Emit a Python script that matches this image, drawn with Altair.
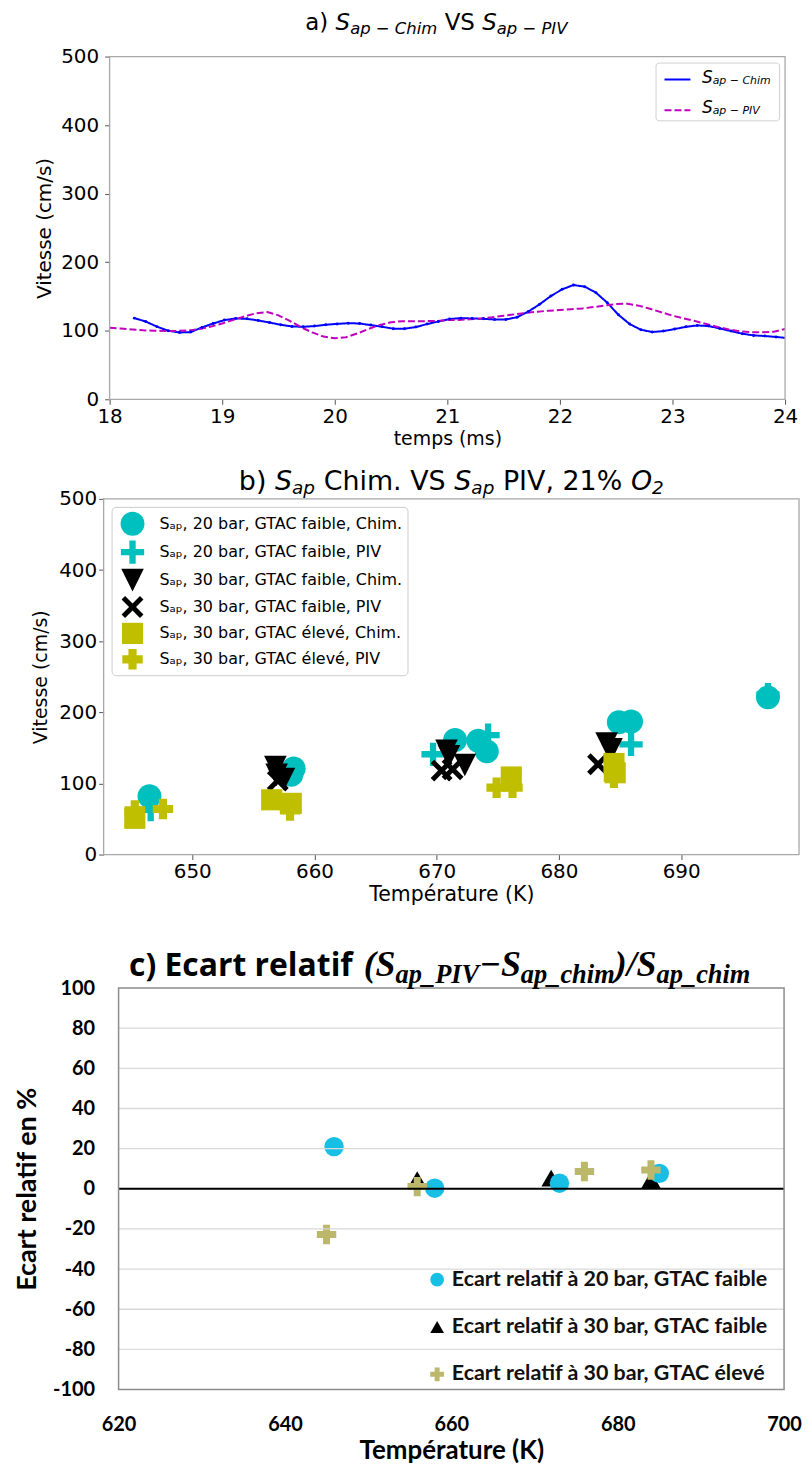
import altair as alt
import pandas as pd

# ---------------- panel a data ----------------
a_t_chim = [18.22, 18.32, 18.42, 18.52, 18.62, 18.72, 18.82, 18.92, 19.02, 19.12,
            19.22, 19.32, 19.42, 19.52, 19.62, 19.72, 19.82, 19.92, 20.02, 20.12,
            20.22, 20.32, 20.42, 20.52, 20.62, 20.72, 20.82, 20.92, 21.02, 21.12,
            21.22, 21.32, 21.42, 21.52, 21.62, 21.72, 21.82, 21.92, 22.02, 22.12,
            22.22, 22.32, 22.42, 22.52, 22.62, 22.72, 22.82, 22.92, 23.02, 23.12,
            23.22, 23.32, 23.42, 23.52, 23.62, 23.72, 23.82, 23.92, 24.02]
a_v_chim = [118.4, 113.5, 106.0, 100.0, 97.5, 98.0, 104.8, 110.6, 115.5, 117.9,
            117.4, 115.0, 112.0, 108.7, 106.2, 105.8, 106.8, 108.7, 110.0, 111.0,
            110.6, 108.2, 105.8, 103.0, 103.0, 105.4, 109.7, 113.5, 117.0, 118.4,
            117.9, 117.4, 116.4, 116.4, 119.8, 128.0, 138.6, 150.7, 160.4, 166.7,
            164.3, 155.6, 141.0, 123.2, 109.7, 101.4, 98.1, 99.5, 102.4, 105.8,
            107.7, 106.8, 103.4, 99.5, 95.7, 93.2, 92.3, 90.9, 89.4]
a_t_piv = [18.0, 18.1, 18.2, 18.3, 18.4, 18.5, 18.6, 18.7, 18.8, 18.9,
           19.0, 19.1, 19.2, 19.3, 19.4, 19.5, 19.6, 19.7, 19.8, 19.9,
           20.0, 20.1, 20.2, 20.3, 20.4, 20.5, 20.6, 20.7, 20.8, 20.9,
           21.0, 21.1, 21.2, 21.3, 21.4, 21.5, 21.6, 21.7, 21.8, 21.9,
           22.0, 22.1, 22.2, 22.3, 22.4, 22.5, 22.6, 22.7, 22.8, 22.9,
           23.0, 23.1, 23.2, 23.3, 23.4, 23.5, 23.6, 23.7, 23.8, 23.9, 24.0]
a_v_piv = [104.2, 103.1, 101.8, 100.6, 100.0, 99.6, 99.7, 100.4, 102.5, 106.0,
           110.5, 115.8, 121.0, 125.5, 127.3, 122.5, 114.5, 105.2, 97.5, 91.5,
           88.9, 90.5, 96.0, 102.6, 108.5, 112.3, 114.0, 114.0, 114.0, 114.2,
           115.5, 115.8, 116.6, 118.0, 119.8, 122.0, 124.0, 126.0, 127.8, 129.2,
           130.2, 131.4, 132.6, 134.6, 136.8, 139.0, 139.4, 136.6, 132.0, 127.0,
           122.0, 118.0, 114.2, 109.9, 105.5, 102.0, 99.0, 97.8, 97.8, 98.6, 102.4]
a_series = ["chim", "piv"]
a_ticks_x = [18, 19, 20, 21, 22, 23, 24]
a_ticks_y = [0, 100, 200, 300, 400, 500]

# ---------------- panel b data ----------------
b_series = ["Sₐₚ, 20 bar, GTAC faible, Chim.",
            "Sₐₚ, 20 bar, GTAC faible, PIV",
            "Sₐₚ, 30 bar, GTAC faible, Chim.",
            "Sₐₚ, 30 bar, GTAC faible, PIV",
            "Sₐₚ, 30 bar, GTAC élevé, Chim.",
            "Sₐₚ, 30 bar, GTAC élevé, PIV"]
b_T_chim20 = [646.5, 658.1, 658.3, 671.5, 673.4, 674.1, 684.9, 685.9, 697.1]
b_V_chim20 = [82, 112, 121, 161, 160, 145, 186, 187, 221]
b_T_piv20 = [646.6, 658.2, 669.7, 674.2, 685.9, 697.1]
b_V_piv20 = [63, 118, 141, 168, 155, 225]
b_T_chim30f = [656.8, 656.9, 657.5, 670.8, 671.0, 672.3, 683.9, 684.3]
b_V_chim30f = [123, 112, 106, 146, 138, 126, 156, 148]
b_T_piv30f = [657.0, 670.4, 671.3, 683.2]
b_V_piv30f = [104, 118, 120, 127]
b_T_chim30e = [645.3, 656.5, 658.1, 676.1, 684.5, 684.6]
b_V_chim30e = [51, 77, 72, 109, 128, 115]
b_T_piv30e = [645.3, 647.6, 658.0, 674.9, 676.2, 684.5]
b_V_piv30e = [62, 64, 62, 94, 94, 108]
b_ticks_x = [650, 660, 670, 680, 690]
b_ticks_y = [0, 100, 200, 300, 400, 500]

# ---------------- panel c data ----------------
c_series = ["Ecart relatif à 20 bar, GTAC faible",
            "Ecart relatif à 30 bar, GTAC faible",
            "Ecart relatif à 30 bar, GTAC élevé"]
c_T_20 = [645.9, 658.0, 673.0, 685.0]
c_V_20 = [21.0, 0.3, 2.8, 7.7]
c_T_30f = [655.9, 672.0, 684.0]
c_V_30f = [4.5, 5.3, 4.5]
c_T_30e = [645.0, 655.9, 676.0, 684.0]
c_V_30e = [-22.8, 1.1, 8.6, 9.4]
c_zero_T = [620, 700]
c_zero_V = [0, 0]
c_grid = [-80, -60, -40, -20, 20, 40, 60, 80]
c_ticks_x = [620, 640, 660, 680, 700]
c_ticks_y = [-100, -80, -60, -40, -20, 0, 20, 40, 60, 80, 100]

# ---------------- helpers ----------------
W_DV = {' ': .318, 'a': .613, 'b': .635, 'c': .550, 'e': .615, 'f': .352, 'h': .634,
        'i': .278, 'l': .278, 'm': .974, 'p': .635, 'r': .411, 's': .521, 't': .392,
        'A': .684, 'C': .698, 'I': .295, 'O': .787, 'P': .603, 'S': .635, 'V': .684,
        '(': .390, ')': .390, '.': .318, ',': .318, '%': .950, '−': .838,
        '0': .636, '1': .636, '2': .636}
W_TBI = {' ': .25, '(': .333, ')': .333, '/': .278, 'S': .556, 'a': .5, 'p': .5, '_': .5,
         'P': .611, 'I': .389, 'V': .667, 'c': .444, 'h': .556, 'i': .278,
         'm': .778, '−': .606}

one = pd.DataFrame({"k": [0]})


def tw(s, size, table):
    return sum(table.get(ch, 0.6) for ch in s) * size


def run(pieces, x, y, font, table, align="left", weight="normal"):
    total = sum(tw(p[0], p[1], table) for p in pieces)
    if align == "center":
        x = x - total / 2
    out = []
    for txt, size, style, dy in pieces:
        core = txt.strip(" ")
        lead = len(txt) - len(txt.lstrip(" "))
        trail = len(txt) - len(txt.rstrip(" "))
        x += lead * table[" "] * size
        out.append(
            alt.Chart(one).mark_text(text=core, font=font, fontSize=size, fontStyle=style,
                                     fontWeight=weight, align="left", baseline="alphabetic",
                                     color="black")
            .encode(x=alt.value(x), y=alt.value(y + dy))
        )
        x += tw(core, size, table) + trail * table[" "] * size
    return out


# ---------------- panel a ----------------
dfa = pd.concat([
    pd.DataFrame({"x": a_t_chim, "y": a_v_chim, "s": a_series[0]}),
    pd.DataFrame({"x": a_t_piv, "y": a_v_piv, "s": a_series[1]}),
])
a_leg = alt.Legend(orient="top-right", offset=6, padding=3, symbolType="stroke",
                   symbolSize=676, symbolStrokeWidth=2, symbolOffset=5, labelOffset=14,
                   labelFontSize=13.5, labelOpacity=0, rowPadding=10, strokeColor="#d0d0d0",
                   fillColor="transparent", cornerRadius=3,
                   labelExpr="datum.value == 'chim' ? 'Sap − Chim' : 'Sap − PIV'")
xa = alt.X("x:Q", scale=alt.Scale(domain=[18, 24], range=[6, 684], nice=False, zero=False),
           axis=alt.Axis(values=a_ticks_x, format="d", labelFontSize=20, tickSize=5,
                         labelFlush=False, labelPadding=2, title="temps (ms)", titleFontSize=19,
                         titleFontWeight="normal", titlePadding=3))
ya = alt.Y("y:Q", scale=alt.Scale(domain=[0, 500], nice=False, zero=False),
           axis=alt.Axis(values=a_ticks_y, labelFontSize=20, tickSize=5, labelPadding=6,
                         labelFlush=False, offset=-6, title="Vitesse (cm/s)", titleFontSize=20,
                         titleFontWeight="normal", titlePadding=6))
a_lines = alt.Chart(dfa).mark_line(strokeWidth=2, clip=True).encode(
    x=xa, y=ya,
    color=alt.Color("s:N", scale=alt.Scale(domain=a_series, range=["#0000ff", "#bf00bf"]),
                    legend=a_leg, title=""),
    strokeDash=alt.StrokeDash("s:N", scale=alt.Scale(domain=a_series, range=[[1, 0], [7, 3]]),
                              legend=a_leg, title=""),
)
a_pts = alt.Chart(pd.DataFrame({"x": a_t_chim, "y": a_v_chim})).mark_point(
    filled=True, size=9, color="#0000ff", opacity=1, clip=True).encode(x="x:Q", y="y:Q")
a_frame = alt.Chart(one).mark_rect(fill="white", fillOpacity=0, stroke="#a8a8a8",
                                   strokeWidth=1.3).encode(
    x=alt.datum(18), x2=alt.datum(24), y=alt.datum(0), y2=alt.datum(500))
a_title = run([("a) ", 23, "normal", 0), ("S", 23, "italic", 0), ("ap − Chim", 16.5, "italic", 4),
               (" VS ", 23, "normal", 0), ("S", 23, "italic", 0), ("ap − PIV", 16.5, "italic", 4)],
              334, -27, "DejaVu Sans", W_DV, align="center")
a_leg_txt = (run([("S", 17, "italic", 0), ("ap − Chim", 11, "italic", 1.2)], 600.5, 26.5, "DejaVu Sans", W_DV)
             + run([("S", 17, "italic", 0), ("ap − PIV", 11, "italic", 1.2)], 600.5, 56.5, "DejaVu Sans", W_DV))
panel_a = alt.layer(a_lines, a_pts, a_frame, *a_title, *a_leg_txt).properties(width=684, height=344)

# ---------------- panel b ----------------
frames = []
for name, T, V in zip(b_series,
                      [b_T_chim20, b_T_piv20, b_T_chim30f, b_T_piv30f, b_T_chim30e, b_T_piv30e],
                      [b_V_chim20, b_V_piv20, b_V_chim30f, b_V_piv30f, b_V_chim30e, b_V_piv30e]):
    frames.append(pd.DataFrame({"x": T, "y": V, "s": name}))
dfb = pd.concat(frames)
thin_plus = "M-1,-0.27H-0.27V-1H0.27V-0.27H1V0.27H0.27V1H-0.27V0.27H-1Z"
tri_down = "M-1,-1L1,-1L0,1Z"
x_shape = "M-0.68,-1L0,-0.32L0.68,-1L1,-0.68L0.32,0L1,0.68L0.68,1L0,0.32L-0.68,1L-1,0.68L-0.32,0L-1,-0.68Z"
fat_plus = "M-1,-0.4H-0.4V-1H0.4V-0.4H1V0.4H0.4V1H-0.4V0.4H-1Z"
b_leg = alt.Legend(orient="top-left", offset=8, padding=5, symbolOffset=4,
                   labelOffset=15, rowPadding=4.5, labelFontSize=16, labelFont="DejaVu Sans",
                   labelLimit=400, strokeColor="#cccccc", fillColor="white", cornerRadius=4,
                   symbolStrokeWidth=0)
b_pts = alt.Chart(dfb).mark_point(filled=True, opacity=1, strokeWidth=0).encode(
    x=alt.X("x:Q", scale=alt.Scale(domain=[642.75, 699.64], nice=False, zero=False),
            axis=alt.Axis(values=b_ticks_x, format="d", labelFontSize=20, tickSize=5,
                          labelFlush=False, labelPadding=2, title="Température (K)",
                          titleFontSize=20.5, titleFontWeight="normal", titlePadding=3)),
    y=alt.Y("y:Q", scale=alt.Scale(domain=[0, 500], nice=False),
            axis=alt.Axis(values=b_ticks_y, labelFontSize=20, tickSize=5, labelPadding=2,
                          labelFlush=False, title="Vitesse (cm/s)", titleFontSize=19,
                          titleFontWeight="normal", titlePadding=8)),
    color=alt.Color("s:N", scale=alt.Scale(domain=b_series,
                    range=["#00bfbf", "#00bfbf", "#000000", "#000000", "#bfbf00", "#bfbf00"]),
                    legend=b_leg, title=""),
    shape=alt.Shape("s:N", scale=alt.Scale(domain=b_series,
                    range=["circle", thin_plus, tri_down, x_shape, "square", fat_plus]),
                    legend=b_leg, title=""),
    size=alt.Size("s:N", scale=alt.Scale(domain=b_series, range=[576, 420, 576, 330, 484, 484]),
                  legend=b_leg, title=""),
)
b_frame = alt.Chart(one).mark_rect(fill="white", fillOpacity=0, stroke="#a8a8a8",
                                   strokeWidth=1.3).encode(
    x=alt.datum(642.75), x2=alt.datum(699.64), y=alt.datum(0), y2=alt.datum(500))
b_title = run([("b) ", 27, "normal", 0), ("S", 27, "italic", 0), ("ap", 18.5, "italic", 4),
               (" Chim. VS ", 27, "normal", 0), ("S", 27, "italic", 0), ("ap", 18.5, "italic", 4),
               (" PIV, 21% ", 27, "normal", 0), ("O", 27, "italic", 0), ("2", 18.5, "italic", 4)],
              349, -9, "DejaVu Sans", W_DV, align="center")
panel_b = alt.layer(b_pts, b_frame, *b_title).properties(width=698, height=357)

# ---------------- panel c ----------------
dfc = pd.concat([
    pd.DataFrame({"x": c_T_30f, "y": c_V_30f, "s": c_series[1]}),
    pd.DataFrame({"x": c_T_20, "y": c_V_20, "s": c_series[0]}),
    pd.DataFrame({"x": c_T_30e, "y": c_V_30e, "s": c_series[2]}),
])
c_plus = "M-1,-0.36H-0.36V-1H0.36V-0.36H1V0.36H0.36V1H-0.36V0.36H-1Z"
c_leg = alt.Legend(orient="none", legendX=324, legendY=316, padding=0,
                   rowPadding=24.5, labelOffset=4, labelFont="Lato", labelFontWeight="bold",
                   labelFontSize=21.5, labelColor="#111111", labelLimit=500, symbolSize=190,
                   symbolStrokeWidth=0)
neg_fmt = "datum.value < 0 ? '-' + abs(datum.value) : '' + datum.value"
c_pts = alt.Chart(dfc).mark_point(filled=True, opacity=1, strokeWidth=0, size=380).encode(
    x=alt.X("x:Q", scale=alt.Scale(domain=[620, 700], range=[15, 683], nice=False, zero=False),
            axis=alt.Axis(values=c_ticks_x, labelFont="Lato", labelFontWeight="bold",
                          labelFontSize=20, ticks=False, labelPadding=25, labelFlush=False,
                          title="Température (K)", titleFont="Lato",
                          titleFontSize=26, titleFontWeight="bold", titlePadding=3)),
    y=alt.Y("y:Q", scale=alt.Scale(domain=[-100, 100], range=[437, 34], nice=False, zero=False),
            axis=alt.Axis(values=c_ticks_y, labelExpr=neg_fmt, labelFont="Lato",
                          labelFontWeight="bold", labelFontSize=20, ticks=False, labelPadding=9,
                          labelFlush=False, title="Ecart relatif en %", titleFont="Lato",
                          titleFontSize=27, titleFontWeight="bold", titlePadding=11)),
    color=alt.Color("s:N", scale=alt.Scale(domain=c_series, range=["#17bfe5", "#000000", "#bcb86b"]),
                    legend=c_leg, title=""),
    shape=alt.Shape("s:N", scale=alt.Scale(domain=c_series, range=["circle", "triangle-up", c_plus]),
                    legend=c_leg, title=""),
)
c_gridl = alt.Chart(pd.DataFrame({"y": c_grid})).mark_rule(color="#d9d9d9", strokeWidth=1.3).encode(
    y="y:Q", x=alt.datum(620), x2=alt.datum(700))
c_zero = alt.Chart(pd.DataFrame({"x": c_zero_T, "y": c_zero_V})).mark_line(
    color="black", strokeWidth=2).encode(x="x:Q", y="y:Q")
c_frame = alt.Chart(one).mark_rect(fill="white", fillOpacity=0, stroke="#8c8c8c",
                                   strokeWidth=1.5).encode(
    x=alt.datum(620), x2=alt.datum(700), y=alt.datum(-100), y2=alt.datum(100))
c_title1 = alt.Chart(one).mark_text(text="c) Ecart relatif", font="Open Sans", fontWeight="bold",
                                    fontSize=32, align="right", baseline="alphabetic",
                                    color="black").encode(x=alt.value(250), y=alt.value(22))
c_formula = run([("(", 36, "italic", 0), ("S", 36, "italic", 0), ("ap_PIV", 26.5, "italic", 7),
                 ("−", 36, "italic", 0), ("S", 36, "italic", 0), ("ap_chim", 26.5, "italic", 7),
                 (")/", 36, "italic", 0), ("S", 36, "italic", 0), ("ap_chim", 26.5, "italic", 7)],
                261, 22, "Liberation Serif", W_TBI, weight="bold")
panel_c = alt.layer(c_pts, c_gridl, c_zero, c_frame, c_title1, *c_formula).properties(
    width=683, height=437)

chart = alt.VConcatChart(vconcat=[panel_a, panel_b, panel_c], spacing=100, bounds="flush").resolve_scale(
    color="independent", shape="independent", size="independent", strokeDash="independent"
).resolve_legend(
    color="independent", shape="independent", size="independent", strokeDash="independent"
).properties(
    padding={"left": 5, "top": 0, "right": 0, "bottom": 0}
).configure_view(stroke="transparent").configure_axis(
    labelColor="black", titleColor="black", domain=False, grid=False, tickColor="#555555",
    labelFont="DejaVu Sans", titleFont="DejaVu Sans"
)

chart.save("out.html", embed_options={"renderer": "svg", "actions": False})
